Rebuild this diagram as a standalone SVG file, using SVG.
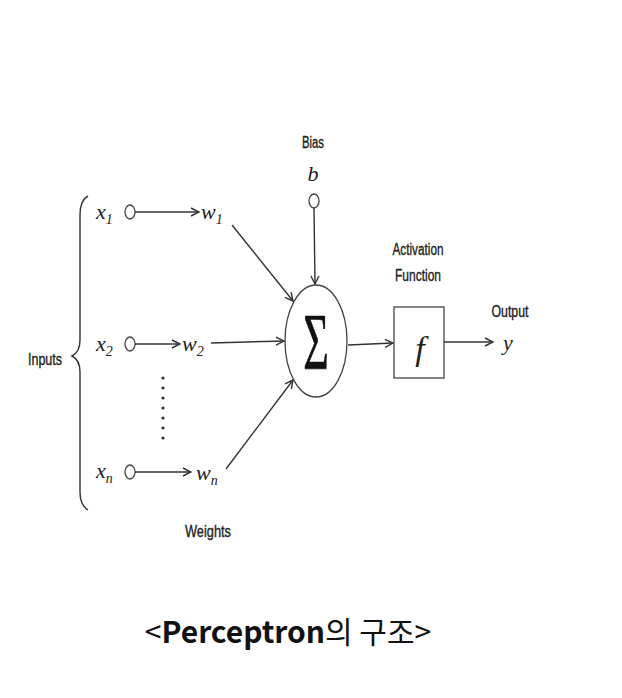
<svg xmlns="http://www.w3.org/2000/svg" width="622" height="698" viewBox="0 0 622 698">
<style>
.lbl{font-family:"Liberation Sans",Arial,sans-serif;font-size:16px;fill:#222;stroke:#222;stroke-width:0.35;}
.mth{font-family:"Liberation Serif","Times New Roman",serif;font-style:italic;fill:#222;}
.ln{stroke:#333;stroke-width:1.4;fill:none;}
.nd{stroke:#444;stroke-width:1.3;fill:#fff;}
</style>
<defs>
<marker id="ah" markerWidth="10" markerHeight="10" refX="9" refY="5" orient="auto" markerUnits="userSpaceOnUse">
<path d="M1,1 L9,5 L1,9" fill="none" stroke="#333" stroke-width="1.4"/>
</marker>
</defs>
<rect width="622" height="698" fill="#fff"/>

<g id="inputs-brace">
<path class="ln" d="M88,196 Q80,200 80,215 L80,340 Q80,352 72,356 Q80,360 80,372 L80,492 Q80,505 88,510"/>
<text class="lbl" x="28" y="365" textLength="34" lengthAdjust="spacingAndGlyphs">Inputs</text>
</g>

<g id="x1">
<text class="mth" x="96" y="219" font-size="22">x<tspan font-size="14" dy="5">1</tspan></text>
<ellipse class="nd" cx="130" cy="212" rx="5" ry="7"/>
</g>
<g id="w1"><text class="mth" x="201" y="219" font-size="22">w<tspan font-size="14" dy="5">1</tspan></text></g>

<g id="x2">
<text class="mth" x="96" y="351" font-size="22">x<tspan font-size="14" dy="5">2</tspan></text>
<ellipse class="nd" cx="130" cy="344" rx="5" ry="7"/>
</g>
<g id="w2"><text class="mth" x="182" y="351" font-size="22">w<tspan font-size="14" dy="5">2</tspan></text></g>

<g id="dots" fill="#333">
<circle cx="163" cy="378" r="1.6"/><circle cx="163" cy="388" r="1.6"/><circle cx="163" cy="398" r="1.6"/><circle cx="163" cy="408" r="1.6"/><circle cx="163" cy="418" r="1.6"/><circle cx="163" cy="428" r="1.6"/><circle cx="163" cy="438" r="1.6"/>
</g>

<g id="xn">
<text class="mth" x="96" y="478" font-size="22">x<tspan font-size="14" dy="5">n</tspan></text>
<ellipse class="nd" cx="130" cy="472" rx="5" ry="7"/>
</g>
<g id="wn"><text class="mth" x="196" y="480" font-size="22">w<tspan font-size="14" dy="5">n</tspan></text></g>
<g id="weights"><text class="lbl" x="208" y="537" text-anchor="middle" textLength="46" lengthAdjust="spacingAndGlyphs">Weights</text></g>

<g id="bias">
<text class="lbl" x="313" y="148" text-anchor="middle" textLength="22" lengthAdjust="spacingAndGlyphs">Bias</text>
<text class="mth" x="313" y="181" font-size="22" text-anchor="middle">b</text>
<ellipse class="nd" cx="314" cy="201" rx="5" ry="7"/>
</g>

<g id="sum">
<ellipse class="nd" cx="316" cy="341" rx="31" ry="56"/>
<text x="316" y="369" font-family="Liberation Serif,serif" font-size="80" fill="#111" stroke="#111" stroke-width="0.6" text-anchor="middle" transform="translate(316,0) scale(0.55,1) translate(-316,0)">Σ</text>
</g>

<g id="activation">
<text class="lbl" x="418" y="255" text-anchor="middle" textLength="51" lengthAdjust="spacingAndGlyphs">Activation</text>
<text class="lbl" x="418" y="281" text-anchor="middle" textLength="46" lengthAdjust="spacingAndGlyphs">Function</text>
<rect class="nd" x="394" y="307" width="50" height="71"/>
<text class="mth" x="420" y="360" font-size="34" text-anchor="middle">f</text>
</g>

<g id="output">
<text class="lbl" x="510" y="317" text-anchor="middle" textLength="37" lengthAdjust="spacingAndGlyphs">Output</text>
<text class="mth" x="508" y="350" font-size="22" text-anchor="middle">y</text>
</g>

<g id="connectors">
<line class="ln" x1="135" y1="212" x2="199" y2="212" marker-end="url(#ah)"/>
<line class="ln" x1="135" y1="344" x2="180" y2="344" marker-end="url(#ah)"/>
<line class="ln" x1="135" y1="472" x2="191" y2="472" marker-end="url(#ah)"/>
<line class="ln" x1="232" y1="225" x2="293" y2="301" marker-end="url(#ah)"/>
<line class="ln" x1="211" y1="343" x2="284" y2="341" marker-end="url(#ah)"/>
<line class="ln" x1="226" y1="469" x2="293" y2="380" marker-end="url(#ah)"/>
<line class="ln" x1="314" y1="208" x2="315" y2="284" marker-end="url(#ah)"/>
<line class="ln" x1="348" y1="345" x2="393" y2="343" marker-end="url(#ah)"/>
<line class="ln" x1="444" y1="342" x2="493" y2="342" marker-end="url(#ah)"/>
</g>

<g id="caption">
<text x="288" y="643" text-anchor="middle" font-family="Noto Sans CJK KR,Noto Sans,sans-serif" font-size="30" fill="#111">&lt;<tspan font-weight="bold">Perceptron</tspan>의 구조&gt;</text>
</g>
</svg>
